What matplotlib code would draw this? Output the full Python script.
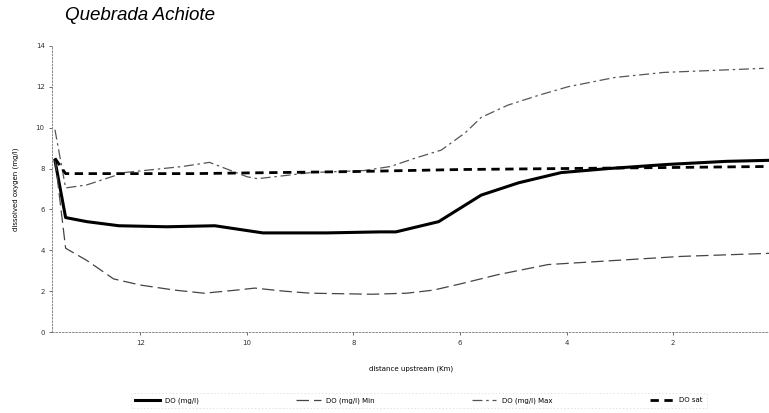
import matplotlib
matplotlib.use("Agg")
import matplotlib.pyplot as plt

# distancias (km aguas arriba) y valores
dist_do = [13.6, 13.4, 13.0, 12.4, 11.5, 10.6, 9.7, 8.5, 7.5, 7.2, 6.4, 5.6, 4.9, 4.1, 3.2, 2.1, 1.0, 0.2]
do_mgl = [8.4, 5.6, 5.4, 5.2, 5.15, 5.2, 4.85, 4.85, 4.9, 4.9, 5.4, 6.7, 7.3, 7.8, 8.0, 8.2, 8.35, 8.4]

dist_min = [13.6, 13.4, 13.0, 12.5, 12.0, 11.35, 10.8, 10.2, 9.85, 9.3, 8.8, 7.65, 7.0, 6.5, 6.0, 5.3, 4.35, 3.1, 1.85, 0.2]
do_min = [8.5, 4.1, 3.5, 2.6, 2.3, 2.05, 1.9, 2.05, 2.15, 2.0, 1.9, 1.85, 1.9, 2.05, 2.35, 2.8, 3.3, 3.5, 3.7, 3.85]

dist_max = [13.6, 13.4, 13.0, 12.3, 11.2, 10.7, 10.0, 9.8, 8.8, 7.8, 7.3, 6.85, 6.35, 5.9, 5.6, 5.1, 4.5, 3.97, 3.1, 2.17, 1.23, 0.3]
do_max = [9.9, 7.05, 7.2, 7.8, 8.1, 8.3, 7.6, 7.5, 7.8, 7.9, 8.1, 8.5, 8.9, 9.75, 10.5, 11.1, 11.6, 12.0, 12.45, 12.7, 12.8, 12.9]

dist_sat = [13.6, 13.4, 11.0, 8.0, 6.0, 4.0, 2.0, 0.2]
do_sat = [8.5, 7.75, 7.75, 7.85, 7.95, 8.0, 8.05, 8.1]

fig = plt.figure(figsize=(7.69, 4.13), dpi=100)
ax = fig.add_axes([0.068, 0.196, 0.932, 0.693])

ax.plot(dist_do, do_mgl, color="black", lw=2.2, label="DO (mg/l)")
ax.plot(dist_min, do_min, color="#444444", lw=0.9, dashes=(10, 4), label="DO (mg/l) Min")
ax.plot(dist_max, do_max, color="#555555", lw=0.9, dashes=(8, 3, 2, 3), label="DO (mg/l) Max")
ax.plot(dist_sat, do_sat, color="black", lw=2.0, dashes=(3, 2), label="DO sat")

ax.set_xlim(13.65, 0.2)
ax.set_ylim(0, 14)
ax.set_xticks([12, 10, 8, 6, 4, 2])
ax.set_yticks(range(0, 15, 2))
ax.tick_params(labelsize=5, colors="#333333", length=2, width=0.5)
for s in ["top", "right"]:
    ax.spines[s].set_visible(False)
for s in ["left", "bottom"]:
    ax.spines[s].set_color("#777777")
    ax.spines[s].set_linewidth(0.6)
    ax.spines[s].set_linestyle((0, (2, 2)))

ax.set_xlabel("distance upstream (Km)", fontsize=5, labelpad=14)
ax.set_ylabel("dissolved oxygen (mg/l)", fontsize=5, labelpad=12)

fig.text(0.085, 0.962, "Quebrada Achiote", fontsize=13.5, style="italic",
         family="Liberation Sans", va="center", ha="left")

leg = fig.legend(loc="center", bbox_to_anchor=(0.545, 0.03), ncol=4, fontsize=5,
                 frameon=True, handlelength=3.5, columnspacing=14, borderpad=0.6)
leg.get_frame().set_edgecolor("#cccccc")
leg.get_frame().set_linewidth(0.5)
leg.get_frame().set_linestyle((0, (2, 3)))

fig.savefig("out.png", dpi=100)
